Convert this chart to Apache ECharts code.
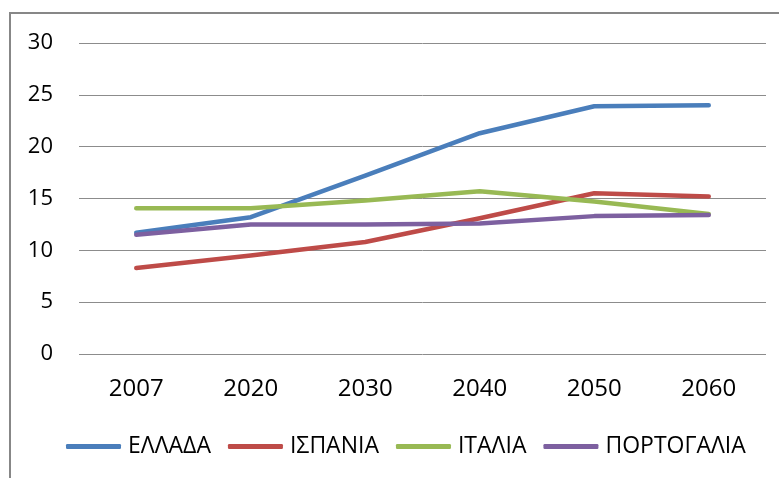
<!DOCTYPE html>
<html>
<head>
<meta charset="utf-8">
<script src="https://cdn.jsdelivr.net/npm/echarts@6/dist/echarts.min.js"></script>
<style>
  html, body { margin: 0; padding: 0; background: #fff; }
  #echarts { width: 779px; height: 478px; }
</style>
</head>
<body>
<div id="echarts"></div>
<script>
var years = ['2007', '2020', '2030', '2040', '2050', '2060'];
var ellada = [11.7, 13.2, 17.2, 21.3, 23.9, 24.0];
var ispania = [8.3, 9.5, 10.8, 13.1, 15.5, 15.2];
var italia = [14.05, 14.05, 14.8, 15.7, 14.7, 13.5];
var portogalia = [11.5, 12.5, 12.5, 12.6, 13.3, 13.4];
var names = ['ΕΛΛΑΔΑ', 'ΙΣΠΑΝΙΑ', 'ΙΤΑΛΙΑ', 'ΠΟΡΤΟΓΑΛΙΑ'];

var font = '"Open Sans", "DejaVu Sans", sans-serif';

function lineSeries(name, data) {
    return {
        name: name,
        type: 'line',
        data: data,
        symbol: 'none',
        lineStyle: { width: 4.5, cap: 'round', join: 'round' }
    };
}

var myChart = echarts.init(document.getElementById('echarts')),
    option = {
        animation: false,
        color: ['#4A7EBB', '#BE4B48', '#98B954', '#7D60A0'],
        textStyle: { fontFamily: font },
        graphic: [{
            type: 'rect',
            shape: { x: 10, y: 13, width: 800, height: 500 },
            style: { fill: 'none', stroke: '#878787', lineWidth: 2 },
            silent: true
        }],
        grid: {
            left: 79,
            right: 13,
            top: 43,
            bottom: 124
        },
        legend: {
            data: names,
            left: 66,
            top: 435,
            padding: 0,
            icon: 'roundRect',
            itemWidth: 55,
            itemHeight: 5,
            itemGap: 17,
            textStyle: { fontFamily: font, fontSize: 23, color: '#000', padding: [0, 0, 0, 2] }
        },
        xAxis: {
            type: 'category',
            data: years,
            boundaryGap: true,
            axisLine: { show: false },
            axisTick: { show: false },
            axisLabel: { margin: 23, fontSize: 24, color: '#000', fontFamily: font }
        },
        yAxis: {
            type: 'value',
            min: 0,
            max: 30,
            interval: 5,
            axisLine: { show: false },
            axisTick: { show: false },
            axisLabel: { margin: 26, fontSize: 22, color: '#000', fontFamily: font },
            splitLine: { lineStyle: { color: '#8c8c8c', width: 1 } }
        },
        series: [
            lineSeries(names[0], ellada),
            lineSeries(names[1], ispania),
            lineSeries(names[2], italia),
            lineSeries(names[3], portogalia)
        ]
    };

myChart.setOption(option);
</script>
</body>
</html>
